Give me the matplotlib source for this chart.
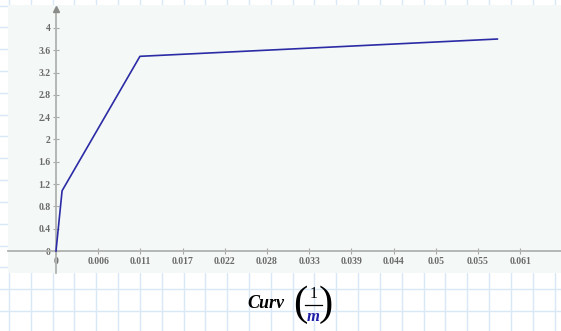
import numpy as np
import matplotlib.pyplot as plt

# dados da curva momento-curvatura
curv = [0.0, 0.0008, 0.01105, 0.0581]
moment = [0.0, 1.08, 3.49, 3.80]

xticks = [0.0, 0.00556, 0.01111, 0.01667, 0.02222, 0.02778, 0.03333,
          0.03889, 0.04444, 0.05, 0.05556, 0.06111]
xtick_labels = ['0', '0.006', '0.011', '0.017', '0.022', '0.028', '0.033',
                '0.039', '0.044', '0.05', '0.055', '0.061']
yticks = [0, 0.4, 0.8, 1.2, 1.6, 2, 2.4, 2.8, 3.2, 3.6, 4]
ytick_labels = ['0', '0.4', '0.8', '1.2', '1.6', '2', '2.4', '2.8', '3.2', '3.6', '4']

W, H = 561, 331
fig = plt.figure(figsize=(W / 100, H / 100), dpi=100)
fig.patch.set_facecolor('white')

# papel quadriculado no fundo
bg = fig.add_axes([0, 0, 1, 1])
bg.set_xlim(0, W)
bg.set_ylim(H, 0)
bg.axis('off')
for k in range(-1, 26):
    bg.axvline(30.7 + 21.83 * k, color='#d8e8f7', lw=1)
for k in range(-13, 3):
    bg.axhline(289.3 + 21.83 * k, color='#d8e8f7', lw=1)

# area do grafico
left, right, top, bottom = 8, 561, 5, 273
ax = fig.add_axes([left / W, (H - bottom) / H, (right - left) / W, (bottom - top) / H])
ax.set_facecolor('#f4f8f6')
ax.set_xlim(-0.00632, 0.06648)
ax.set_ylim(-0.394, 4.41)

ax.plot(curv, moment, color='#2b2ba6', lw=1.2, zorder=3)

for s in ['top', 'right']:
    ax.spines[s].set_visible(False)
ax.spines['left'].set_position(('data', 0))
ax.spines['bottom'].set_position(('data', 0))
ax.spines['left'].set_bounds(-0.39, 4.33)
for s in ['left', 'bottom']:
    ax.spines[s].set_color('#b0b2b0')
    ax.spines[s].set_linewidth(1.3)
ax.plot(0, 4.33, marker='^', color='#8a8c8a', ms=4.5, clip_on=False, zorder=4)

ax.set_xticks(xticks)
ax.set_xticklabels(xtick_labels)
ax.set_yticks(yticks)
ax.set_yticklabels(ytick_labels)
ax.tick_params(direction='inout', length=5, width=0.8, color='#a8aaa8',
               labelsize=7, labelcolor='#6a6a6a', pad=1.5)
for lab in ax.get_xticklabels() + ax.get_yticklabels():
    lab.set_family('Liberation Serif')
    lab.set_fontweight('bold')

# rotulo do eixo x: Curv (1/m)
bg.text(266, 304, 'Curv', fontsize=13, family='Liberation Serif',
        fontweight='bold', style='italic', ha='center', va='center')
bg.text(300, 305, '(', fontsize=31, family='Liberation Serif', ha='center', va='center')
bg.text(326, 305, ')', fontsize=31, family='Liberation Serif', ha='center', va='center')
bg.text(313.5, 294, '1', fontsize=11.5, family='Liberation Serif', ha='center', va='center')
bg.plot([305, 322], [304.5, 304.5], color='black', lw=0.9)
bg.text(313.5, 317, 'm', fontsize=12, family='Liberation Serif', fontweight='bold',
        style='italic', color='#1f1fa8', ha='center', va='center')

fig.savefig('out.png', dpi=100)
